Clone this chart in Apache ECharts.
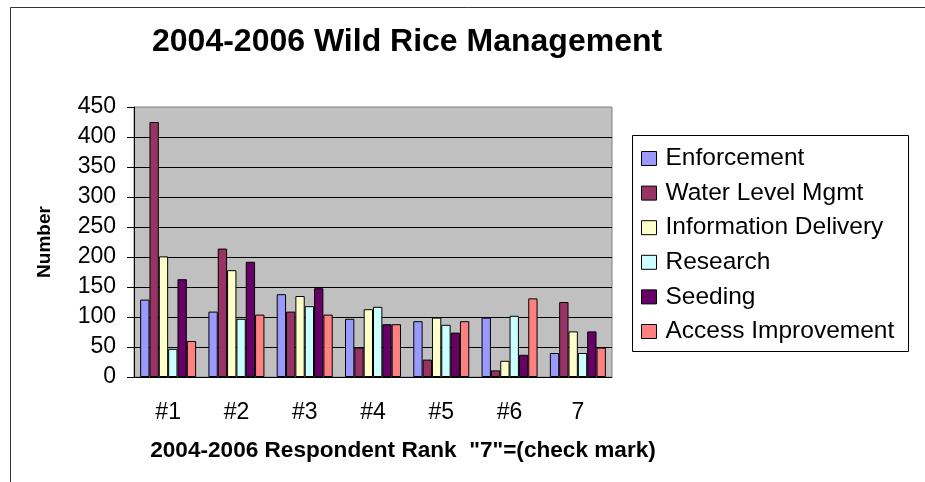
<!DOCTYPE html>
<html>
<head>
<meta charset="utf-8">
<script src="https://cdn.jsdelivr.net/npm/echarts@6/dist/echarts.min.js"></script>
<style>
  html, body { margin: 0; padding: 0; background: #fff; }
  #chart { width: 925px; height: 482px; }
</style>
</head>
<body>
<div id="chart"></div>
<script>
// categories and series
const ranks = ['#1', '#2', '#3', '#4', '#5', '#6', '7'];
const enforcement = [129, 109, 138, 97, 93, 99, 40];
const waterLevel = [425, 214, 109, 49, 29, 11, 125];
const infoDelivery = [201, 178, 135, 113, 99, 27, 76];
const research = [47, 97, 118, 117, 87, 102, 40];
const seeding = [163, 192, 148, 88, 74, 37, 76];
const access = [60, 104, 104, 88, 93, 131, 49];
const yTicks = [0, 50, 100, 150, 200, 250, 300, 350, 400, 450];

const font = 'Arial, "Liberation Sans", sans-serif';

function bar(name, data, color) {
  return {
    name: name,
    type: 'bar',
    data: data,
    barGap: '0%',
    barCategoryGap: '18%',
    itemStyle: { color: color, borderColor: '#000', borderWidth: 1 }
  };
}

let options = {
  animation: false,
  textStyle: { fontFamily: font, color: '#000' },
  title: {
    text: '2004-2006 Wild Rice Management',
    left: 147,
    top: 21,
    textStyle: { fontFamily: font, fontSize: 32, fontWeight: 'bold', color: '#000' }
  },
  graphic: [
    { type: 'rect', shape: { x: 10.5, y: 7.5, width: 1000, height: 1000 },
      style: { fill: 'none', stroke: '#333', lineWidth: 1 }, z: -1 },
    { type: 'rect', shape: { x: 632.5, y: 135.5, width: 276, height: 216 },
      style: { fill: '#fff', stroke: '#000', lineWidth: 1 }, z: 0 }
  ],
  legend: {
    orient: 'vertical',
    left: 641,
    top: 146,
    padding: 0,
    itemWidth: 15,
    itemHeight: 14,
    itemGap: 9.6,
    icon: 'rect',
    z: 5,
    itemStyle: { borderColor: '#000', borderWidth: 1 },
    textStyle: { fontFamily: font, fontSize: 24.5, lineHeight: 20, color: '#000', padding: [0, 0, 0, 4] }
  },
  grid: {
    left: 134,
    right: 313,
    top: 107,
    bottom: 105,
    show: true,
    backgroundColor: '#C0C0C0',
    borderColor: '#808080',
    borderWidth: 1
  },
  xAxis: {
    type: 'category',
    data: ranks,
    name: '2004-2006 Respondent Rank  "7"=(check mark)',
    nameLocation: 'middle',
    nameGap: 62,
    nameTextStyle: { fontFamily: font, fontSize: 22.6, fontWeight: 'bold', color: '#000', padding: [0, 0, 0, 60] },
    axisLine: { lineStyle: { color: '#000', width: 1 } },
    axisTick: { length: 6, lineStyle: { color: '#000' } },
    axisLabel: { fontFamily: font, fontSize: 23, color: '#000', margin: 24 }
  },
  yAxis: {
    type: 'value',
    min: yTicks[0],
    max: yTicks[yTicks.length - 1],
    interval: 50,
    name: 'Number',
    nameLocation: 'middle',
    nameRotate: 90,
    nameGap: 80,
    nameTextStyle: { fontFamily: font, fontSize: 19, fontWeight: 'bold', color: '#000' },
    axisLine: { show: true, lineStyle: { color: '#000', width: 1 } },
    axisTick: { show: true, length: 7, lineStyle: { color: '#000' } },
    axisLabel: { fontFamily: font, fontSize: 23, color: '#000', margin: 18 },
    splitLine: { show: true, showMaxLine: false, lineStyle: { color: '#000', width: 1 } }
  },
  series: [
    bar('Enforcement', enforcement, '#9999FF'),
    bar('Water Level Mgmt', waterLevel, '#993366'),
    bar('Information Delivery', infoDelivery, '#FFFFCC'),
    bar('Research', research, '#CCFFFF'),
    bar('Seeding', seeding, '#660066'),
    bar('Access Improvement', access, '#FF8080')
  ]
};

let myChart = echarts.init(document.getElementById('chart'));
myChart.setOption(options);
</script>
</body>
</html>
